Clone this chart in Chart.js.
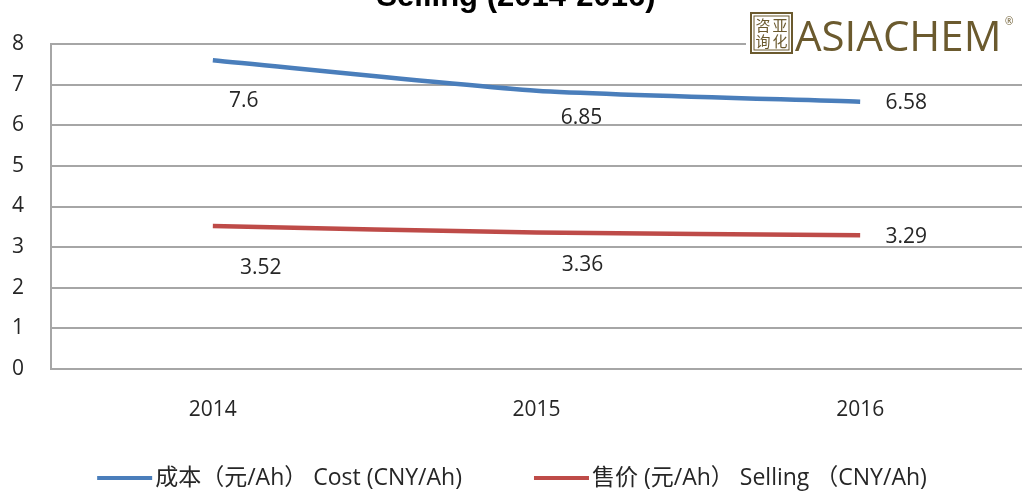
<!DOCTYPE html>
<html>
<head>
<meta charset="utf-8">
<script src="https://cdn.jsdelivr.net/npm/chart.js@4.4.1/dist/chart.umd.min.js"></script>
<style>
  html, body { margin: 0; padding: 0; background: #ffffff; }
  #wrap { width: 1022px; height: 491px; position: relative; }
</style>
</head>
<body>
<div id="wrap"><canvas id="c" width="1022" height="491"></canvas></div>
<script>
// ---- data ----
const categories = ['2014', '2015', '2016'];
const costValues = [7.6, 6.85, 6.58];
const sellingValues = [3.52, 3.36, 3.29];
const costLabel = '成本（元/Ah） Cost (CNY/Ah)';
const sellingLabel = '售价 (元/Ah） Selling （CNY/Ah)';
const titleText = 'Selling (2014-2016)';
const yTicks = [0, 1, 2, 3, 4, 5, 6, 7, 8];

// ---- styles ----
const costColor = '#4A7EBB';
const sellColor = '#BE4B48';
const gridColor = '#A6A6A6';
const textColor = '#262626';
const latinFont = '"Open Sans", "Noto Sans CJK SC", sans-serif';
const labelOffsets = [
  [[31, 41], [45, 27], [46, 1]],
  [[48, 42], [46, 33], [46, 2]]
];

const decorPlugin = {
  id: 'decor',
  afterDraw(chart) {
    const ctx = chart.ctx;
    ctx.save();
    // title (cut off at top)
    ctx.fillStyle = '#000';
    ctx.font = 'bold 31px "Liberation Sans", Arial, sans-serif';
    ctx.textAlign = 'center';
    ctx.textBaseline = 'alphabetic';
    ctx.fillText(titleText, 516, 6);

    // logo
    ctx.fillStyle = '#ffffff';
    ctx.fillRect(746, 8, 276, 52);
    const brown = '#6B5A2E';
    ctx.strokeStyle = brown;
    ctx.lineWidth = 2;
    ctx.strokeRect(751, 13, 41, 40);
    ctx.lineWidth = 1;
    ctx.strokeRect(754, 16, 35, 34);
    ctx.fillStyle = brown;
    ctx.font = '15px "Noto Sans CJK SC"';
    ctx.textAlign = 'center';
    ctx.textBaseline = 'middle';
    ctx.fillText('咨', 763, 25);
    ctx.fillText('亚', 780, 25);
    ctx.fillText('询', 763, 41);
    ctx.fillText('化', 780, 41);
    ctx.font = '500 42px "Open Sans", sans-serif';
    ctx.textAlign = 'left';
    ctx.textBaseline = 'alphabetic';
    ctx.fillText('ASIACHEM', 795, 51);
    ctx.font = '10px "Open Sans", sans-serif';
    ctx.fillText('®', 1005, 25);

    // legend
    const items = chart.data.datasets.map(d => ({ text: d.label, color: d.borderColor }));
    const lineLen = 55, gapText = 3, gapItem = 72;
    ctx.font = '23px ' + latinFont;
    const widths = items.map(it => lineLen + gapText + ctx.measureText(it.text).width);
    const total = widths.reduce((a, b) => a + b, 0) + gapItem * (items.length - 1);
    let x = 512 - total / 2;
    const ly = 478;
    items.forEach((it, i) => {
      ctx.strokeStyle = it.color;
      ctx.lineWidth = 4;
      ctx.beginPath();
      ctx.moveTo(x, ly);
      ctx.lineTo(x + lineLen, ly);
      ctx.stroke();
      ctx.fillStyle = textColor;
      ctx.textAlign = 'left';
      ctx.textBaseline = 'middle';
      ctx.fillText(it.text, x + lineLen + gapText, ly);
      x += widths[i] + gapItem;
    });
    ctx.restore();
  },
  afterDatasetsDraw(chart) {
    const ctx = chart.ctx;
    ctx.save();
    ctx.font = '21px ' + latinFont;
    ctx.fillStyle = textColor;
    ctx.textAlign = 'center';
    ctx.textBaseline = 'middle';
    chart.data.datasets.forEach((ds, di) => {
      const meta = chart.getDatasetMeta(di);
      meta.data.forEach((pt, i) => {
        const off = labelOffsets[di][i];
        ctx.fillText(String(ds.data[i]), pt.x + off[0], pt.y + off[1]);
      });
    });
    ctx.restore();
  }
};

new Chart(document.getElementById('c'), {
  type: 'line',
  data: {
    labels: categories,
    datasets: [
      { label: costLabel, data: costValues, borderColor: costColor, backgroundColor: costColor,
        borderWidth: 4.5, pointRadius: 0, tension: 0.2, fill: false },
      { label: sellingLabel, data: sellingValues, borderColor: sellColor, backgroundColor: sellColor,
        borderWidth: 4.5, pointRadius: 0, tension: 0.2, fill: false }
    ]
  },
  options: {
    responsive: false,
    animation: false,
    devicePixelRatio: 1,
    layout: { padding: { top: 44, bottom: 62, left: 0, right: -6 } },
    plugins: {
      legend: { display: false },
      title: { display: false },
      tooltip: { enabled: false }
    },
    scales: {
      x: {
        offset: true,
        afterFit(s) { s.height = 60; },
        grid: { display: false, drawTicks: false },
        border: { display: true, color: gridColor, width: 2 },
        ticks: { color: textColor, font: { family: latinFont, size: 21 }, padding: 28, maxRotation: 0 }
      },
      y: {
        min: 0, max: 8,
        afterFit(s) { s.width = 51; },
        afterBuildTicks(s) { s.ticks = yTicks.map(v => ({ value: v })); },
        grid: { color: gridColor, lineWidth: 2, drawTicks: false },
        border: { display: true, color: gridColor, width: 2 },
        ticks: { color: textColor, font: { family: latinFont, size: 21 }, padding: 27 }
      }
    }
  },
  plugins: [decorPlugin]
});
</script>
</body>
</html>
